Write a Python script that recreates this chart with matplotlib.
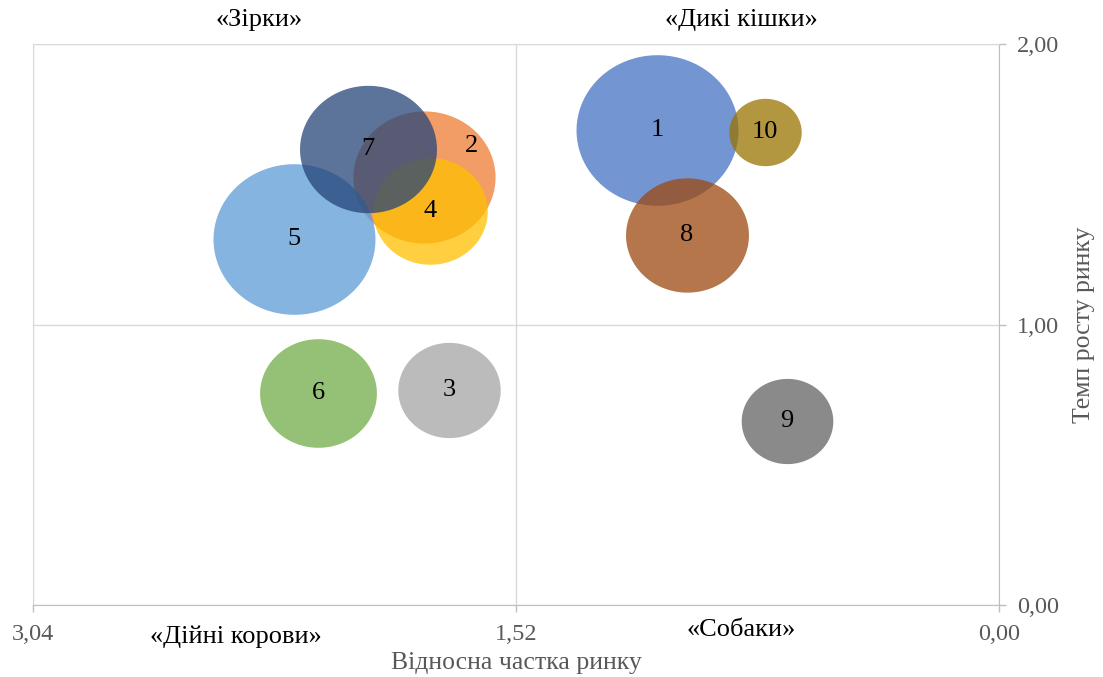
import numpy as np
import matplotlib
matplotlib.use("Agg")
import matplotlib.pyplot as plt
from matplotlib.path import Path

# ── data ─────────────────────────────────────────────────────────────────────
labels = ["1", "2", "3", "4", "5", "6", "7", "8", "9", "10"]
rel_share = [1.076, 1.809, 1.731, 1.791, 2.219, 2.143, 1.986, 0.982, 0.667, 0.736]
growth = [1.693, 1.526, 0.766, 1.405, 1.305, 0.756, 1.626, 1.319, 0.656, 1.686]
bubble_val = [1.00, 0.77, 0.40, 0.50, 1.00, 0.52, 0.715, 0.576, 0.32, 0.20]
colors = ["#4472C4", "#ED7D31", "#A5A5A5", "#FFC000", "#5B9BD5",
          "#70AD47", "#264478", "#9E480E", "#636363", "#997300"]
# label offsets in points (label 2 was moved off-centre in the original)
label_off = {"2": (34, 22)}

x_ticks = [3.04, 1.52, 0.00]
y_ticks = [0.00, 1.00, 2.00]
quadrants = {"«Зірки»": (0.234, 1.043), "«Дикі кішки»": (0.733, 1.043),
             "«Дійні корови»": (0.210, -0.057), "«Собаки»": (0.733, -0.045)}

plt.rcParams['font.family'] = ['Liberation Serif', 'DejaVu Serif']

fig = plt.figure(figsize=(11.03, 6.77), dpi=100)
ax = fig.add_axes([0.0299, 0.1063, 0.876, 0.8287])

# slightly flattened circle as marker
t = np.linspace(0, 2 * np.pi, 120)
ell = Path(np.column_stack([np.cos(t), 0.93 * np.sin(t)]), closed=True)

for i, lab in enumerate(labels):
    ax.scatter(rel_share[i], growth[i], s=bubble_val[i] * 13600, marker=ell,
               color=colors[i], alpha=0.75, linewidths=0, zorder=3)
for i, lab in enumerate(labels):
    ax.annotate(lab, (rel_share[i], growth[i]), xytext=label_off.get(lab, (0, 0)),
                textcoords='offset points', ha='center', va='center',
                fontsize=19, color='black', zorder=5)

ax.set_xlim(3.04, 0.0)
ax.set_ylim(0, 2.0)
ax.set_xticks(x_ticks)
ax.set_xticklabels([f"{v:.2f}".replace(".", ",") for v in x_ticks])
ax.set_yticks(y_ticks)
ax.set_yticklabels([f"{v:.2f}".replace(".", ",") for v in y_ticks])
ax.yaxis.tick_right()
ax.yaxis.set_label_position('right')
ax.tick_params(colors='#BFBFBF', labelcolor='#595959', labelsize=17.5,
               length=5, width=1)
ax.tick_params(axis='x', pad=9)
ax.tick_params(axis='y', pad=8)
ax.grid(True, color='#D9D9D9', linewidth=1, zorder=0)
ax.set_axisbelow(True)
for side in ['top', 'left']:
    ax.spines[side].set_color('#D9D9D9')
for side in ['right', 'bottom']:
    ax.spines[side].set_color('#BFBFBF')

ax.set_xlabel("Відносна частка ринку", fontsize=18.5, color='#595959', labelpad=5)
ax.set_ylabel("Темп росту ринку", fontsize=18.5, color='#595959', labelpad=10)

for txt, (qx, qy) in quadrants.items():
    ax.text(qx, qy, txt, transform=ax.transAxes, ha='center', va='center',
            fontsize=19, color='black')

fig.savefig("out.png", dpi=100)
